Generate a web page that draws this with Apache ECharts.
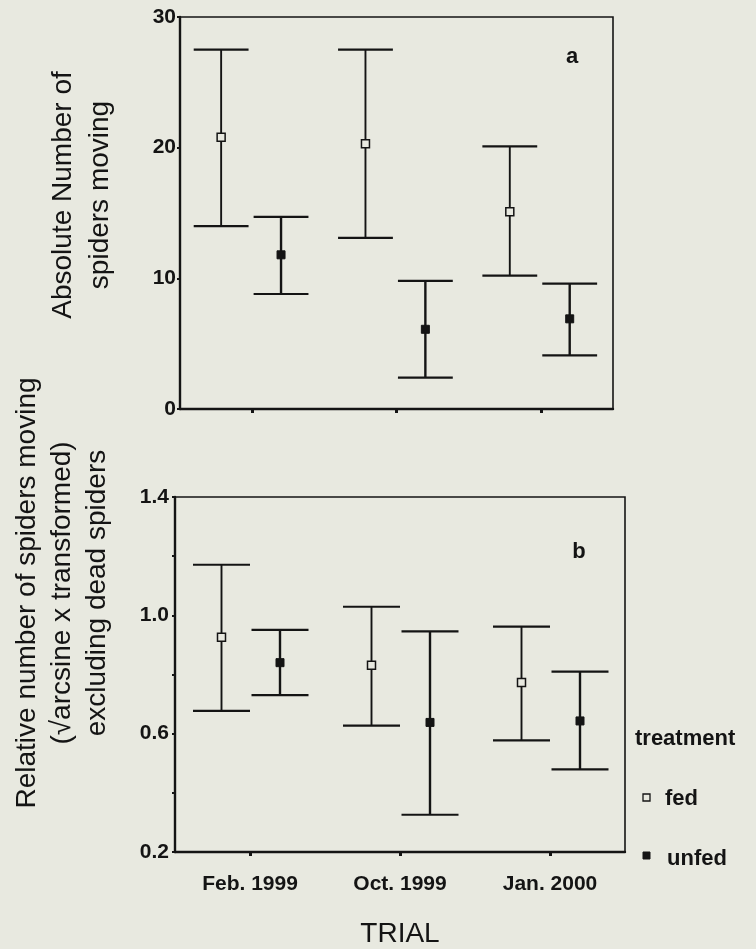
<!DOCTYPE html>
<html>
<head>
<meta charset="utf-8">
<script src="https://cdn.jsdelivr.net/npm/echarts@6/dist/echarts.min.js"></script>
<style>
html,body{margin:0;padding:0;background:#e8e9e0;}
#chart{width:756px;height:949px;}
</style>
</head>
<body>
<div id="chart"></div>
<script>
// ---- data ----
const categories = ['Feb. 1999', 'Oct. 1999', 'Jan. 2000'];

// panel a: absolute number of spiders moving
const fedMeanA   = [20.8, 20.3, 15.1];
const fedLowA    = [14.0, 13.1, 10.2];
const fedHighA   = [27.5, 27.5, 20.1];
const unfedMeanA = [11.8, 6.1, 6.9];
const unfedLowA  = [8.8, 2.4, 4.1];
const unfedHighA = [14.7, 9.8, 9.6];

// panel b: relative number (sqrt arcsine transformed)
const fedMeanB   = [0.926, 0.831, 0.773];
const fedLowB    = [0.677, 0.627, 0.577];
const fedHighB   = [1.171, 1.029, 0.962];
const unfedMeanB = [0.840, 0.638, 0.643];
const unfedLowB  = [0.730, 0.326, 0.479];
const unfedHighB = [0.951, 0.946, 0.810];

const yTicksA = [0, 10, 20, 30];
const yLabelsB = [0.2, 0.6, 1.0, 1.4];

// ---- styling ----
const BG = '#e8e9e0';
const INK = '#141414';
const FONT = '"Liberation Sans", Arial, sans-serif';

function rows(mean, low, high) {
  return categories.map((c, i) => [i, low[i], high[i], mean[i]]);
}

function makeRender(offsetFrac, filled) {
  return function (params, api) {
    const idx = api.value(0);
    const lo = api.value(1), hi = api.value(2), mean = api.value(3);
    const band = api.size([1, 0])[0];
    const pm = api.coord([idx, mean]);
    const pl = api.coord([idx, lo]);
    const ph = api.coord([idx, hi]);
    const x = pm[0] + offsetFrac * band;
    const hw = 0.19 * band;
    const lw = filled ? 2.4 : 1.9;
    const s = 8;
    return {
      type: 'group',
      children: [
        { type: 'line', shape: { x1: x, y1: ph[1], x2: x, y2: pl[1] }, style: { stroke: INK, lineWidth: lw } },
        { type: 'line', shape: { x1: x - hw, y1: ph[1], x2: x + hw, y2: ph[1] }, style: { stroke: INK, lineWidth: 2.2 } },
        { type: 'line', shape: { x1: x - hw, y1: pl[1], x2: x + hw, y2: pl[1] }, style: { stroke: INK, lineWidth: 2.2 } },
        { type: 'rect', shape: { x: x - s / 2, y: pm[1] - s / 2, width: s, height: s },
          style: filled ? { fill: INK, stroke: INK, lineWidth: 1 } : { fill: BG, stroke: INK, lineWidth: 1.5 } }
      ]
    };
  };
}

const axisLineStyle = { show: true, lineStyle: { color: INK, width: 2.4 } };

const option = {
  backgroundColor: BG,
  animation: false,
  grid: [
    { left: 180, top: 17, right: 143, height: 392, show: true, borderColor: INK, borderWidth: 1.6, backgroundColor: 'transparent' },
    { left: 175, top: 497, right: 131, height: 360, show: true, borderColor: INK, borderWidth: 1.6, backgroundColor: 'transparent' }
  ],
  xAxis: [
    { type: 'category', gridIndex: 0, data: categories, boundaryGap: true,
      axisLine: axisLineStyle,
      axisTick: { show: true, alignWithLabel: true, length: 4, lineStyle: { color: INK, width: 3 } },
      axisLabel: { show: false }, splitLine: { show: false } },
    { type: 'category', gridIndex: 1, data: categories, boundaryGap: true,
      axisLine: axisLineStyle,
      axisTick: { show: true, alignWithLabel: true, length: 4, lineStyle: { color: INK, width: 3 } },
      axisLabel: { show: true, color: INK, fontFamily: FONT, fontWeight: 'bold', fontSize: 21, margin: 22 },
      name: 'TRIAL', nameLocation: 'middle', nameGap: 68,
      nameTextStyle: { color: INK, fontFamily: FONT, fontSize: 28 },
      splitLine: { show: false } }
  ],
  yAxis: [
    { type: 'value', gridIndex: 0, min: 0, max: 30, interval: 10,
      axisLine: axisLineStyle,
      axisTick: { show: true, length: 3, lineStyle: { color: INK, width: 2 } },
      axisLabel: { color: INK, fontFamily: FONT, fontWeight: 'bold', fontSize: 21, margin: 4,
        formatter: v => (yTicksA.indexOf(v) >= 0 ? String(v) : '') },
      splitLine: { show: false } },
    { type: 'value', gridIndex: 1, min: 0.2, max: 1.4, interval: 0.2,
      axisLine: axisLineStyle,
      axisTick: { show: true, length: 3, lineStyle: { color: INK, width: 2 } },
      axisLabel: { color: INK, fontFamily: FONT, fontWeight: 'bold', fontSize: 21, margin: 6,
        formatter: v => (yLabelsB.some(t => Math.abs(t - v) < 1e-6) ? v.toFixed(1) : '') },
      splitLine: { show: false } }
  ],
  series: [
    { type: 'custom', name: 'fed', xAxisIndex: 0, yAxisIndex: 0, clip: false,
      renderItem: makeRender(-0.215, false), data: rows(fedMeanA, fedLowA, fedHighA),
      encode: { x: 0, y: [1, 2, 3] } },
    { type: 'custom', name: 'unfed', xAxisIndex: 0, yAxisIndex: 0, clip: false,
      renderItem: makeRender(0.2, true), data: rows(unfedMeanA, unfedLowA, unfedHighA),
      encode: { x: 0, y: [1, 2, 3] } },
    { type: 'custom', name: 'fed', xAxisIndex: 1, yAxisIndex: 1, clip: false,
      renderItem: makeRender(-0.19, false), data: rows(fedMeanB, fedLowB, fedHighB),
      encode: { x: 0, y: [1, 2, 3] } },
    { type: 'custom', name: 'unfed', xAxisIndex: 1, yAxisIndex: 1, clip: false,
      renderItem: makeRender(0.2, true), data: rows(unfedMeanB, unfedLowB, unfedHighB),
      encode: { x: 0, y: [1, 2, 3] } }
  ],
  graphic: [
    { type: 'text', x: 82, y: 195, rotation: Math.PI / 2,
      style: { text: 'Absolute Number of\nspiders moving', fill: INK, font: '28px ' + FONT,
        textAlign: 'center', textVerticalAlign: 'middle', lineHeight: 37 } },
    { type: 'text', x: 62, y: 593, rotation: Math.PI / 2,
      style: { text: 'Relative number of spiders moving\n(\u221Aarcsine x transformed)\nexcluding dead spiders',
        fill: INK, font: '28px ' + FONT, textAlign: 'center', textVerticalAlign: 'middle', lineHeight: 35 } },
    { type: 'text', x: 572, y: 57, style: { text: 'a', fill: INK, font: 'bold 22px ' + FONT, textAlign: 'center', textVerticalAlign: 'middle' } },
    { type: 'text', x: 579, y: 552, style: { text: 'b', fill: INK, font: 'bold 22px ' + FONT, textAlign: 'center', textVerticalAlign: 'middle' } },
    { type: 'text', x: 635, y: 739, style: { text: 'treatment', fill: INK, font: 'bold 22px ' + FONT, textAlign: 'left', textVerticalAlign: 'middle' } },
    { type: 'rect', shape: { x: 643, y: 794, width: 7, height: 7 }, style: { fill: BG, stroke: INK, lineWidth: 1.3 } },
    { type: 'text', x: 665, y: 799, style: { text: 'fed', fill: INK, font: 'bold 22px ' + FONT, textAlign: 'left', textVerticalAlign: 'middle' } },
    { type: 'rect', shape: { x: 643, y: 852, width: 7, height: 7 }, style: { fill: INK, stroke: INK, lineWidth: 1 } },
    { type: 'text', x: 667, y: 859, style: { text: 'unfed', fill: INK, font: 'bold 22px ' + FONT, textAlign: 'left', textVerticalAlign: 'middle' } }
  ]
};

const chart = echarts.init(document.getElementById('chart'), null, { renderer: 'canvas' });
chart.setOption(option);
</script>
</body>
</html>
